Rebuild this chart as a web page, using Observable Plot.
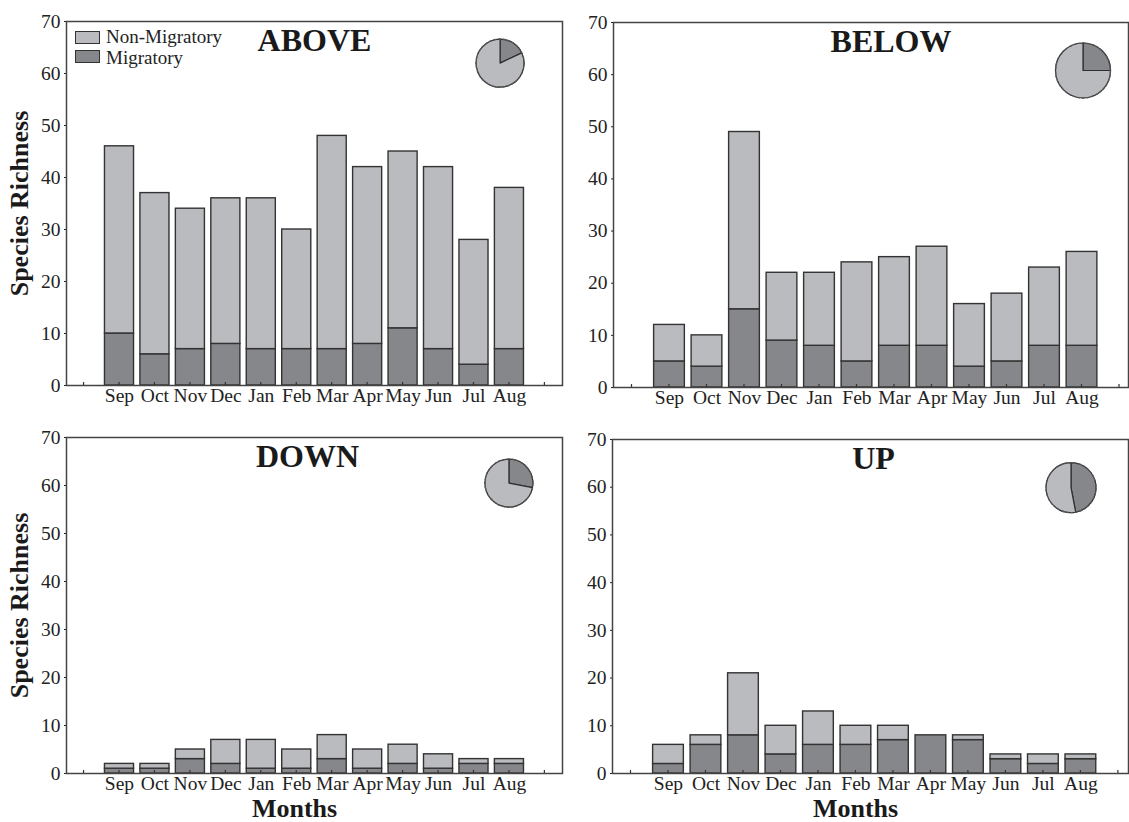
<!DOCTYPE html>
<html>
<head>
<meta charset="utf-8">
<script src="https://cdn.jsdelivr.net/npm/d3@7"></script>
<script src="https://cdn.jsdelivr.net/npm/@observablehq/plot@0.6"></script>
<style>
  body { margin: 0; background: #fff; }
  #wrap { position: relative; width: 1129px; height: 822px; overflow: hidden; font-family: "Liberation Serif", "Times New Roman", serif; color: #222; }
  .panel { position: absolute; }
  .sw { position: absolute; width: 23px; height: 11px; border: 1.5px solid #333; }
  .lt { position: absolute; font-size: 19px; line-height: 17px; white-space: nowrap; color: #222; }
</style>
</head>
<body>
<div id="wrap"></div>
<script>
// ---------------- data ----------------
const months = ["Sep", "Oct", "Nov", "Dec", "Jan", "Feb", "Mar", "Apr", "May", "Jun", "Jul", "Aug"];
const yTicks = [0, 10, 20, 30, 40, 50, 60, 70];
const seriesNames = ["Non-Migratory", "Migratory"];
const panelTitles = ["ABOVE", "BELOW", "DOWN", "UP"];

const aboveMigratory    = [10, 6, 7, 8, 7, 7, 7, 8, 11, 7, 4, 7];
const aboveNonMigratory = [36, 31, 27, 28, 29, 23, 41, 34, 34, 35, 24, 31];

const belowMigratory    = [5, 4, 15, 9, 8, 5, 8, 8, 4, 5, 8, 8];
const belowNonMigratory = [7, 6, 34, 13, 14, 19, 17, 19, 12, 13, 15, 18];

const downMigratory     = [1, 1, 3, 2, 1, 1, 3, 1, 2, 1, 2, 2];
const downNonMigratory  = [1, 1, 2, 5, 6, 4, 5, 4, 4, 3, 1, 1];

const upMigratory       = [2, 6, 8, 4, 6, 6, 7, 8, 7, 3, 2, 3];
const upNonMigratory    = [4, 2, 13, 6, 7, 4, 3, 0, 1, 1, 2, 1];

// share of migratory species shown in each inset pie
const pieMigratoryShare = [0.18, 0.25, 0.28, 0.47];

// ---------------- styling / layout ----------------
const LIGHT = "#babbbf";
const DARK = "#86878b";
const EDGE = "#333";

const panels = [
  {title: panelTitles[0], mig: aboveMigratory, non: aboveNonMigratory, share: pieMigratoryShare[0],
   left: 0, top: 0, width: 564, height: 412, mt: 21, mb: 27, ml: 66, mr: 2,
   xd: [-1.495, 12.497], titleDx: 0, pie: [10.75, 61.9, 24], yLabel: true, xLabel: false, legend: true},
  {title: panelTitles[1], mig: belowMigratory, non: belowNonMigratory, share: pieMigratoryShare[1],
   left: 563, top: 0, width: 566, height: 412, mt: 22, mb: 25, ml: 50, mr: 1,
   xd: [-1.493, 12.24], titleDx: 20, pie: [11.04, 60.7, 27.5], yLabel: false, xLabel: false},
  {title: panelTitles[2], mig: downMigratory, non: downNonMigratory, share: pieMigratoryShare[2],
   left: 0, top: 415, width: 564, height: 407, mt: 22, mb: 49, ml: 66, mr: 2,
   xd: [-1.495, 12.497], titleDx: -7, pie: [11.0, 60.4, 24], yLabel: true, xLabel: true, monthsDx: -20, monthsDy: 43},
  {title: panelTitles[3], mig: upMigratory, non: upNonMigratory, share: pieMigratoryShare[3],
   left: 563, top: 415, width: 566, height: 407, mt: 24, mb: 49, ml: 49, mr: 1,
   xd: [-1.493, 12.27], titleDx: 3, pie: [10.75, 59.8, 25], yLabel: false, xLabel: true, monthsDx: -15, monthsDy: 43}
];

function records(p) {
  const out = [];
  months.forEach((m, i) => {
    out.push({i, month: m, series: seriesNames[1], y1: 0, y2: p.mig[i]});
    out.push({i, month: m, series: seriesNames[0], y1: p.mig[i], y2: p.mig[i] + p.non[i]});
  });
  return out;
}

// small inward ticks on the x axis
const tickPositions = [-1, ...months.map((_, i) => i), 12];
function innerTicks(index, scales) {
  const g = d3.create("svg:g").attr("stroke", EDGE).attr("stroke-width", 1.2);
  const y0 = scales.y(0);
  for (const t of tickPositions) {
    const x = scales.x(t);
    g.append("line").attr("x1", x).attr("x2", x).attr("y1", y0).attr("y2", y0 - 3);
  }
  return g.node();
}

function pieMark(share, cx, cy, r) {
  return (index, scales) => {
    const g = d3.create("svg:g")
      .attr("transform", `translate(${scales.x(cx)},${scales.y(cy)})`);
    const pie = d3.pie().sort(null).value(d => d.v);
    const arcs = pie([{s: seriesNames[1], v: share}, {s: seriesNames[0], v: 1 - share}]);
    const arc = d3.arc().innerRadius(0).outerRadius(r);
    g.selectAll("path.sl").data(arcs).join("path")
      .attr("class", "sl")
      .attr("d", arc)
      .attr("fill", d => d.data.s === seriesNames[1] ? DARK : LIGHT)
      .attr("stroke", "#2e2e2e")
      .attr("stroke-width", 1.2)
      .attr("stroke-linejoin", "round");
    g.append("circle").attr("r", r).attr("fill", "none")
      .attr("stroke", "#555").attr("stroke-width", 1.3).attr("stroke-dasharray", "3 1.6");
    return g.node();
  };
}

const wrap = document.getElementById("wrap");

for (const p of panels) {
  const marks = [
    Plot.rect(records(p), {
      x1: d => d.i - 0.41, x2: d => d.i + 0.41, y1: "y1", y2: "y2",
      fill: "series", stroke: EDGE, strokeWidth: 1.4
    }),
    innerTicks,
    Plot.frame({stroke: "#444", strokeWidth: 1.5}),
    Plot.text([p.title], {text: d => d, frameAnchor: "top", textAnchor: "middle", dx: p.titleDx, dy: 29, lineAnchor: "bottom",
      fontSize: 32, fontWeight: "bold", fill: "#1a1a1a"}),
    pieMark(p.share, p.pie[0], p.pie[1], p.pie[2])
  ];
  if (p.yLabel) marks.push(Plot.text(["Species Richness"], {text: d => d, frameAnchor: "left", textAnchor: "middle",
    dx: -39, rotate: -90, lineAnchor: "bottom", fontSize: 26, fontWeight: "bold", fill: "#1a1a1a"}));
  if (p.xLabel) marks.push(Plot.text(["Months"], {text: d => d, frameAnchor: "bottom", textAnchor: "middle",
    dx: p.monthsDx, dy: p.monthsDy, lineAnchor: "bottom", fontSize: 26, fontWeight: "bold", fill: "#1a1a1a"}));

  const chart = Plot.plot({
    width: p.width, height: p.height,
    marginTop: p.mt, marginBottom: p.mb, marginLeft: p.ml, marginRight: p.mr,
    x: {type: "linear", domain: p.xd, ticks: months.map((_, i) => i), tickFormat: i => months[i],
        tickSize: 0, tickPadding: 3, label: null},
    y: {domain: [0, 70], ticks: yTicks, tickSize: 2, tickPadding: 4, label: null},
    color: {domain: seriesNames, range: [LIGHT, DARK]},
    style: {fontFamily: "'Liberation Serif', 'Times New Roman', serif", fontSize: "19.5px", color: "#222",
            background: "transparent", overflow: "visible"},
    marks
  });
  chart.classList.add("panel");
  chart.style.left = p.left + "px";
  chart.style.top = p.top + "px";
  wrap.appendChild(chart);

  if (p.legend) {
    const colors = [LIGHT, DARK];
    seriesNames.forEach((name, k) => {
      const sw = document.createElement("div");
      sw.className = "sw";
      sw.style.left = "75px";
      sw.style.top = (31 + k * 19) + "px";
      sw.style.background = colors[k];
      wrap.appendChild(sw);
      const t = document.createElement("div");
      t.className = "lt";
      t.style.left = "106px";
      t.style.top = (28 + k * 21) + "px";
      t.textContent = name;
      wrap.appendChild(t);
    });
  }
}
</script>
</body>
</html>
